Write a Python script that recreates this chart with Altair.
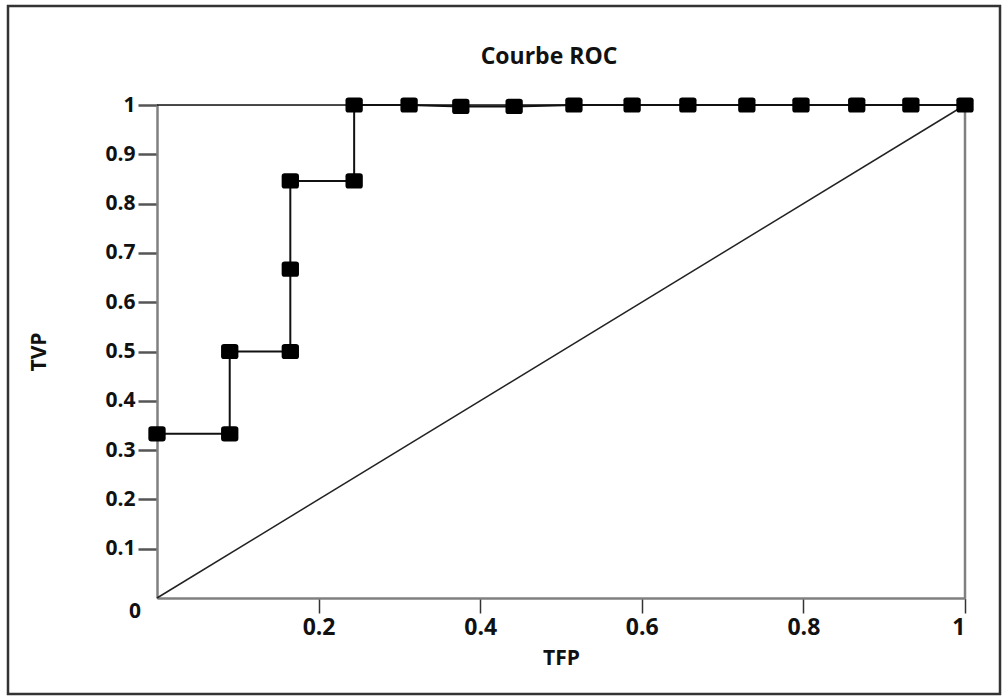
import altair as alt
import pandas as pd

# ROC curve points (TFP, TVP)
tfp = [0.0, 0.09, 0.09, 0.165, 0.165, 0.165, 0.244, 0.244, 0.312, 0.376, 0.442,
       0.516, 0.588, 0.657, 0.730, 0.797, 0.866, 0.933, 1.0]
tvp = [0.333, 0.333, 0.5, 0.5, 0.667, 0.846, 0.846, 1.0, 1.0, 0.997, 0.997,
       1.0, 1.0, 1.0, 1.0, 1.0, 1.0, 1.0, 1.0]
diag_x = [0.0, 1.0]
diag_y = [0.0, 1.0]
x_ticks = [0.2, 0.4, 0.6, 0.8, 1.0]
y_ticks = [0.1, 0.2, 0.3, 0.4, 0.5, 0.6, 0.7, 0.8, 0.9, 1.0]

FONT = "Open Sans"
W, H = 808, 493

roc = pd.DataFrame({"x": tfp, "y": tvp, "i": list(range(len(tfp)))})
diag = pd.DataFrame({"x": diag_x, "y": diag_y})

xscale = alt.Scale(domain=[0, 1], nice=False, zero=False)
yscale = alt.Scale(domain=[0, 1], nice=False, zero=False)

xaxis = alt.Axis(values=x_ticks, labelExpr="format(datum.value, '~g')", title="TFP",
                 grid=False, domainColor="#808080", domainWidth=2.5,
                 tickColor="#333333", tickWidth=1.5, tickSize=15,
                 labelFont=FONT, labelFontSize=23, labelFontWeight="bold",
                 labelColor="#111111", labelPadding=3,
                 titleFont=FONT, titleFontSize=21, titleFontWeight="bold",
                 titleColor="#111111", titlePadding=8)
yaxis = alt.Axis(values=y_ticks, labelExpr="format(datum.value, '~g')", title="TVP",
                 grid=False, domainColor="#808080", domainWidth=2.5,
                 tickColor="#555555", tickWidth=2.5, tickSize=19,
                 labelFont=FONT, labelFontSize=21, labelFontWeight="bold",
                 labelColor="#111111", labelPadding=3,
                 titleFont=FONT, titleFontSize=21, titleFontWeight="bold",
                 titleColor="#111111", titlePadding=55)

base = alt.Chart(roc)

frame = alt.Chart(pd.DataFrame({"a": [0]})).mark_rect(
    fill=None, stroke="#333333", strokeWidth=2.5, clip=False
).encode(x=alt.value(-149), x2=alt.value(843), y=alt.value(-99), y2=alt.value(589))

diag_line = alt.Chart(diag).mark_line(color="#222222", strokeWidth=1.5).encode(
    x=alt.X("x:Q", scale=xscale, axis=xaxis),
    y=alt.Y("y:Q", scale=yscale, axis=yaxis),
)

right_rule = alt.Chart(pd.DataFrame({"x": [1.0]})).mark_rule(
    color="#808080", strokeWidth=2.5
).encode(x=alt.X("x:Q", scale=xscale))

top_rule = alt.Chart(pd.DataFrame({"y": [1.0]})).mark_rule(
    color="#111111", strokeWidth=1.5
).encode(y=alt.Y("y:Q", scale=yscale))

step_line = base.mark_line(color="#111111", strokeWidth=2).encode(
    x=alt.X("x:Q", scale=xscale),
    y=alt.Y("y:Q", scale=yscale),
    order="i:Q",
)

rounded = ("M-0.65,-0.88 H0.65 Q1,-0.88 1,-0.55 V0.55 Q1,0.88 0.65,0.88 "
           "H-0.65 Q-1,0.88 -1,0.55 V-0.55 Q-1,-0.88 -0.65,-0.88 Z")
markers = base.mark_point(shape=rounded, filled=True, color="#000000",
                          size=300, opacity=1).encode(
    x=alt.X("x:Q", scale=xscale),
    y=alt.Y("y:Q", scale=yscale),
)

zero_label = alt.Chart(pd.DataFrame({"x": [0.0], "y": [0.0]})).mark_text(
    text="0", font=FONT, fontSize=21, fontWeight="bold", color="#111111",
    dx=-22, dy=14, clip=False
).encode(x=alt.X("x:Q", scale=xscale), y=alt.Y("y:Q", scale=yscale))

chart = alt.layer(frame, diag_line, right_rule, top_rule, step_line, markers, zero_label).properties(
    width=W, height=H,
    autosize=alt.AutoSizeParams(type="none"),
    padding={"left": 157, "top": 105, "right": 43, "bottom": 98},
    title=alt.TitleParams("Courbe ROC", font=FONT, fontSize=23, fontWeight="bold",
                          color="#111111", anchor="middle", offset=-64, dx=-12),
).configure_view(stroke=None).configure(background="white")

chart.save("out.html", embed_options={"renderer": "svg", "actions": False})
